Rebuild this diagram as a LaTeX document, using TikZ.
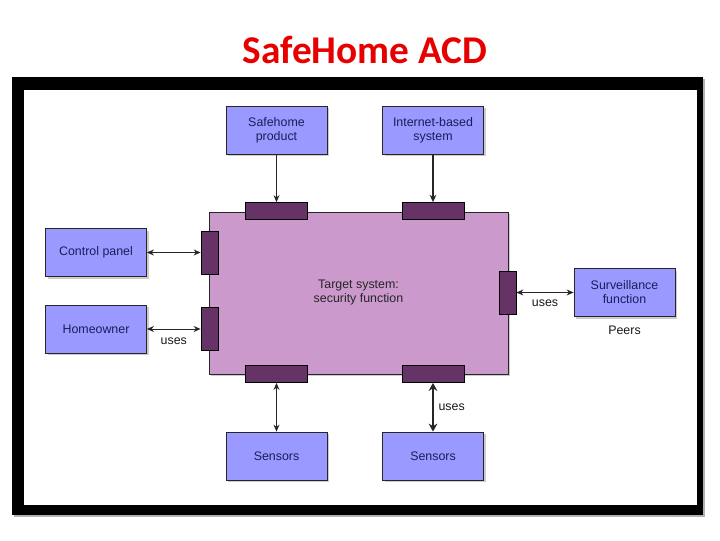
\documentclass[tikz,border=0pt]{standalone}
\usepackage{fontspec}
\setmainfont{Liberation Sans}
\newfontfamily\titlefont{Carlito}
\usepackage{xcolor}
\usepackage{tikz}
\usetikzlibrary{shapes,arrows.meta,positioning,shadows}

\definecolor{extblue}{RGB}{153,153,255}
\definecolor{extnavy}{RGB}{28,28,92}
\definecolor{sysfill}{RGB}{204,153,204}
\definecolor{portfill}{RGB}{102,51,102}
\definecolor{titlered}{RGB}{230,0,0}

\begin{document}
\begin{tikzpicture}[
        x=0.75pt, y=-0.75pt,
        boxfont/.style={font=\fontsize{9.3}{10.5}\selectfont},
        extbox/.style={
            boxfont,
            draw=black!85,
            line width=0.6pt,
            fill=extblue,
            text=extnavy,
            minimum width=75.75pt,
            minimum height=36pt,
            inner sep=0pt,
            align=center,
            drop shadow={shadow xshift=1.5pt, shadow yshift=-1.5pt, opacity=0.4}
        },
        hport/.style={
            draw=black,
            line width=0.6pt,
            fill=portfill,
            minimum width=46.5pt,
            minimum height=12.75pt,
            inner sep=0pt
        },
        vport/.style={hport, minimum width=12.75pt, minimum height=32.25pt},
        link/.style={line width=0.75pt, black!85, {Stealth[length=5.25pt,width=4.5pt]}-{Stealth[length=5.25pt,width=4.5pt]}},
        uselabel/.style={boxfont, text=black!90}
    ]

    \useasboundingbox[fill=white] (0,0) rectangle (720,540);

    \node[text=titlered, font=\titlefont\bfseries\fontsize{29.5}{30}\selectfont] (title) at (365,50) {SafeHome ACD};

    \node[text=gray!55, font=\fontsize{8}{9}\selectfont] (pagenum) at (672,514) {15};

    \fill[gray!60] (14,79) rectangle (705,517);
    \fill[black] (12,77) rectangle (703,515);
    \fill[white] (24,90) rectangle (697,505);

    \node[
        boxfont,
        draw=black!85,
        line width=0.6pt,
        fill=sysfill,
        text=black!85,
        minimum width=224.25pt,
        minimum height=121.5pt,
        align=center,
        drop shadow={shadow xshift=1.5pt, shadow yshift=-1.5pt, opacity=0.4}
    ] (target) at (358.5,293) {Target system:\\security function};

    \node[hport] (portTopA) at (276.5,211) {};
    \node[hport] (portTopB) at (433,211) {};
    \node[hport] (portBotA) at (276.5,374) {};
    \node[hport] (portBotB) at (433,374) {};
    \node[vport] (portLeftA) at (209.5,252.5) {};
    \node[vport] (portLeftB) at (209.5,329) {};
    \node[vport] (portRight) at (507.5,292.5) {};

    \node[extbox] (product) at (276.5,130) {Safehome\\product};
    \node[extbox] (internet) at (433,130) {Internet-based\\system};
    \node[extbox] (control) at (96,252.5) {Control panel};
    \node[extbox] (owner) at (96,329) {Homeowner};
    \node[extbox] (surveil) at (624.5,292.5) {Surveillance\\function};
    \node[extbox] (sensorA) at (276.5,456) {Sensors};
    \node[extbox] (sensorB) at (433,456) {Sensors};

    \node[uselabel, below=3.5pt of surveil] (peers) {Peers};

    \draw[line width=0.75pt, black!85, -{Stealth[length=5.25pt,width=4.5pt]}] (product) -- (portTopA);
    \draw[line width=1pt, black!85, -{Stealth[length=5.5pt,width=5pt]}] (internet) -- (portTopB);
    \draw[link] (control) -- (portLeftA);
    \draw[link] (owner) -- node[uselabel, midway, yshift=-9.5pt] {uses} (portLeftB);
    \draw[link] (portRight) -- node[uselabel, midway, yshift=-8.25pt] {uses} (surveil);
    \draw[link] (portBotA) -- (sensorA);
    \draw[
        line width=1.8pt,
        black!85,
        {Stealth[length=6pt,width=6.5pt]}-{Stealth[length=6pt,width=6.5pt]}
    ] (portBotB) -- node[uselabel, midway, xshift=14pt] {uses} (sensorB);

\end{tikzpicture}
\end{document}
